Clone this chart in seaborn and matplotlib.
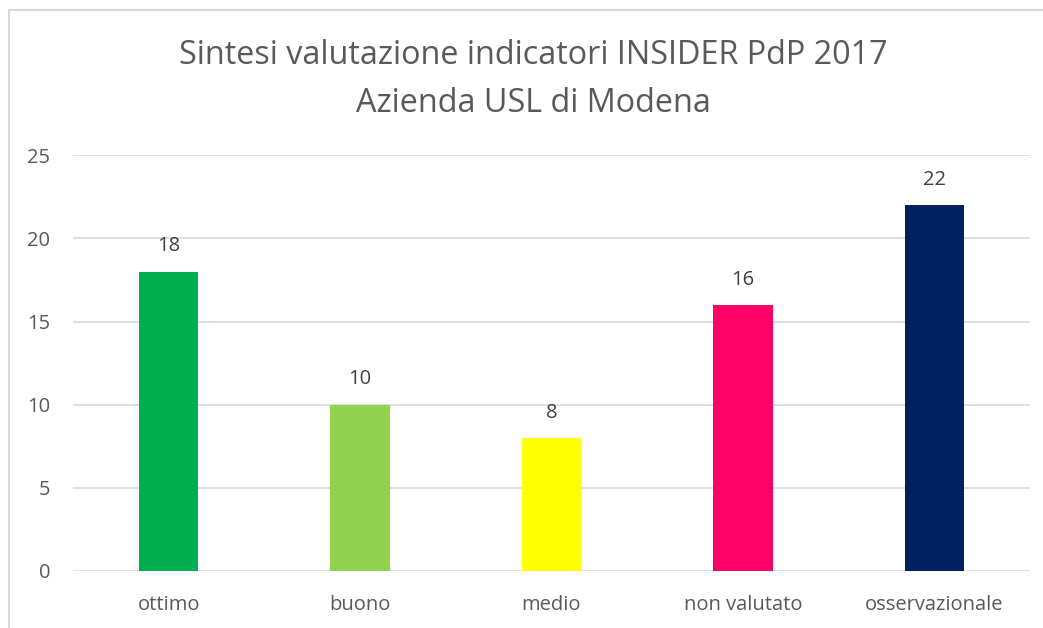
import matplotlib.pyplot as plt
import seaborn as sns
import pandas as pd
from matplotlib.patches import Rectangle

# values
categorie = ["ottimo", "buono", "medio", "non valutato", "osservazionale"]
valori = [18, 10, 8, 16, 22]
colori = ["#00B050", "#92D050", "#FFFF00", "#FF0066", "#002060"]

df = pd.DataFrame({"categoria": categorie, "valore": valori})

sns.set_theme(style="white")
plt.rcParams["font.family"] = ["Open Sans", "DejaVu Sans"]

fig = plt.figure(figsize=(10.43, 6.28), dpi=100)
ax = fig.add_axes([0.07, 0.0908, 0.9175, 0.662])

sns.barplot(data=df, x="categoria", y="valore", hue="categoria",
            palette=colori, saturation=1, width=0.31, linewidth=0,
            legend=False, ax=ax, zorder=3)

ax.set_ylim(0, 25)
ax.set_yticks(range(0, 26, 5))
ax.yaxis.grid(True, color="#D9D9D9", linewidth=1.2, zorder=0)
ax.set_axisbelow(True)
for s in ax.spines.values():
    s.set_visible(False)
ax.set_xlabel("")
ax.set_ylabel("")
ax.tick_params(axis="both", length=0, colors="#595959", labelsize=14.5)
ax.tick_params(axis="y", pad=16.5)
ax.tick_params(axis="x", pad=17)

for i, v in enumerate(valori):
    ax.annotate(str(v), (i, v), xytext=(0, 11), textcoords="offset points",
                ha="center", va="bottom", fontsize=14.5, color="#404040")

fig.text(0.511, 0.912, "Sintesi valutazione indicatori INSIDER PdP 2017",
         ha="center", va="center", fontsize=23.3, color="#595959")
fig.text(0.511, 0.835, "Azienda USL di Modena",
         ha="center", va="center", fontsize=23.3, color="#595959")

# outer chart border
fig.patches.append(Rectangle((9 / 1043, -0.05), 1.1, 1 - 10 / 628 + 0.05,
                             transform=fig.transFigure, fill=False,
                             edgecolor="#D9D9D9", linewidth=1.5))

fig.savefig("out.png", dpi=100)
